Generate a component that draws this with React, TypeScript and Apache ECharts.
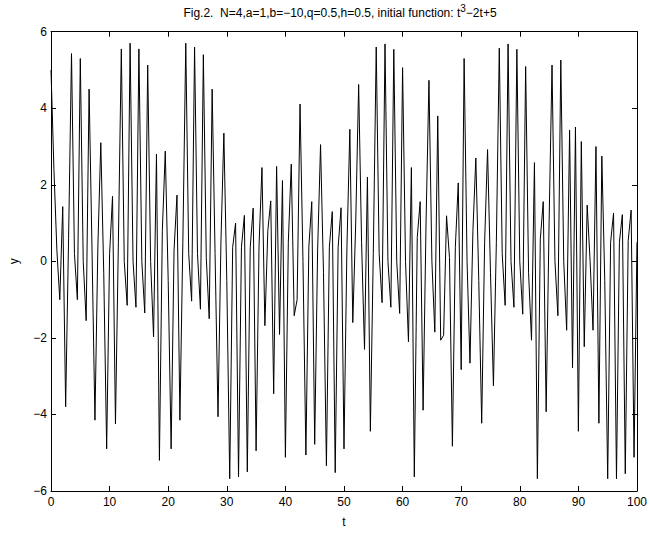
import React, { useEffect, useRef } from "react";
import * as echarts from "echarts";

const h = 0.5;
const yValues = [
  5.0, 2.4, 0.3, -1.0, 1.43, -3.8, 0.6, 5.43, 0.2, -1.0,
  5.3, 0.0, -1.55, 4.5, 0.3, -4.15, 0.4, 3.1, -0.3, -4.9,
  0.2, 1.7, -4.25, 0.5, 5.55, 0.0, -1.15, 5.7, 0.0, -1.2,
  5.55, 0.0, -1.35, 5.13, 0.0, -1.97, 2.8, -5.2, 0.8, 2.88,
  -0.5, -4.9, 0.3, 1.73, -4.15, 0.5, 5.7, 0.2, -1.04, 5.6,
  0.2, -1.25, 5.4, 0.1, -1.5, 4.5, 0.2, -4.06, 0.5, 3.35,
  -0.5, -5.68, 0.37, 1.0, -5.63, 0.37, 1.2, -5.5, 0.37, 1.39,
  -4.95, 0.4, 2.45, -1.68, 0.8, 1.58, -3.46, 2.48, -1.91, 2.11,
  -5.12, 0.5, 2.54, -1.42, -1.0, 4.11, 0.0, -5.06, 0.37, 1.56,
  -4.78, 0.3, 3.05, -0.3, -5.34, 0.37, 1.3, -5.52, 0.37, 1.4,
  -4.9, 0.37, 3.45, -1.6, 1.0, 4.62, 0.5, -2.3, 2.2, -4.44,
  0.2, 5.6, 0.2, -1.08, 5.68, 0.0, -1.2, 5.54, 0.0, -1.36,
  5.06, 0.0, -2.1, 2.45, -5.63, 0.62, 1.56, -3.89, 1.0, 4.73,
  0.0, -1.85, 3.8, -2.06, -1.93, 1.19, 0.1, -4.83, 0.37, 2.05,
  -2.83, 5.3, 0.0, -2.66, 0.8, 2.7, -0.5, -4.23, 0.5, 2.92,
  -0.3, -3.25, 0.5, 5.57, 0.2, -1.15, 5.68, 0.0, -1.2, 5.54,
  0.0, -1.38, 5.09, -0.3, -2.06, 2.58, -5.68, 0.58, 1.56, -3.93,
  1.0, 5.13, 0.0, -1.42, 5.26, 0.0, -1.8, 3.43, -2.78, 3.51,
  -4.44, 3.13, -2.23, 1.47, 0.0, -1.8, 3.0, -4.23, 2.75, -0.5,
  -5.68, 0.5, 1.26, -5.68, 0.5, 1.22, -5.55, 0.54, 1.34, -5.12,
  0.5,
];

const xTicks = { min: 0, max: 100, interval: 10 };
const yTicks = { min: -6, max: 6, interval: 2 };
const titleText = "Fig.2.  N=4,a=1,b=\u221210,q=0.5,h=0.5, initial function: t{sup|3}\u22122t+5";

const FONT = "'Liberation Sans', Arial, Helvetica, sans-serif";

export default function App() {
  const ref = useRef<HTMLDivElement>(null);
  useEffect(() => {
    if (!ref.current) return;
    const chart = echarts.init(ref.current, undefined, { renderer: "svg" });
    const data = yValues.map((v, i) => [i * h, v]);
    const axisCommon = {
      axisLine: { show: true, onZero: false, lineStyle: { color: "#000", width: 1 } },
      axisTick: { show: true, inside: true, length: 5, lineStyle: { color: "#000" } },
      splitLine: { show: false },
    };
    const fmt = (v: number) => String(v).replace("-", "\u2212");
    chart.setOption({
      animation: false,
      backgroundColor: "#fff",
      textStyle: { fontFamily: FONT },
      grid: { left: 42.7, right: 10, top: 31.7, bottom: 31.5, containLabel: false },
      graphic: [
        {
          type: "text",
          x: 340,
          y: 13,
          style: {
            text: titleText,
            textAlign: "center",
            textVerticalAlign: "middle",
            fontFamily: FONT,
            fontSize: 12,
            fill: "#000",
            rich: {
              sup: { fontSize: 10, verticalAlign: "top", padding: [0, 0, 9, 0], fontFamily: FONT, fill: "#000" },
            },
          },
        },
      ],
      xAxis: [
        {
          type: "value",
          position: "bottom",
          ...xTicks,
          ...axisCommon,
          name: "t",
          nameLocation: "middle",
          nameGap: 25,
          nameTextStyle: { color: "#000", fontSize: 12, fontFamily: FONT },
          axisLabel: { color: "#000", fontSize: 12, margin: 5, fontFamily: FONT, formatter: fmt },
        },
        {
          type: "value",
          position: "top",
          ...xTicks,
          ...axisCommon,
          axisLabel: { show: false },
        },
      ],
      yAxis: [
        {
          type: "value",
          position: "left",
          ...yTicks,
          ...axisCommon,
          name: "y",
          nameLocation: "middle",
          nameGap: 31,
          nameRotate: 90,
          nameTextStyle: { color: "#000", fontSize: 12, fontFamily: FONT },
          axisLabel: { color: "#000", fontSize: 12, margin: 4, fontFamily: FONT, formatter: fmt },
        },
        {
          type: "value",
          position: "right",
          ...yTicks,
          ...axisCommon,
          axisLabel: { show: false },
        },
      ],
      series: [
        {
          type: "line",
          data,
          xAxisIndex: 0,
          yAxisIndex: 0,
          showSymbol: false,
          symbol: "none",
          lineStyle: { color: "#000", width: 1 },
        },
      ],
    });
    return () => chart.dispose();
  }, []);
  return (
    <div
      ref={ref}
      style={{ position: "fixed", left: 0, top: 0, width: 650, height: 533, background: "#fff" }}
    />
  );
}
